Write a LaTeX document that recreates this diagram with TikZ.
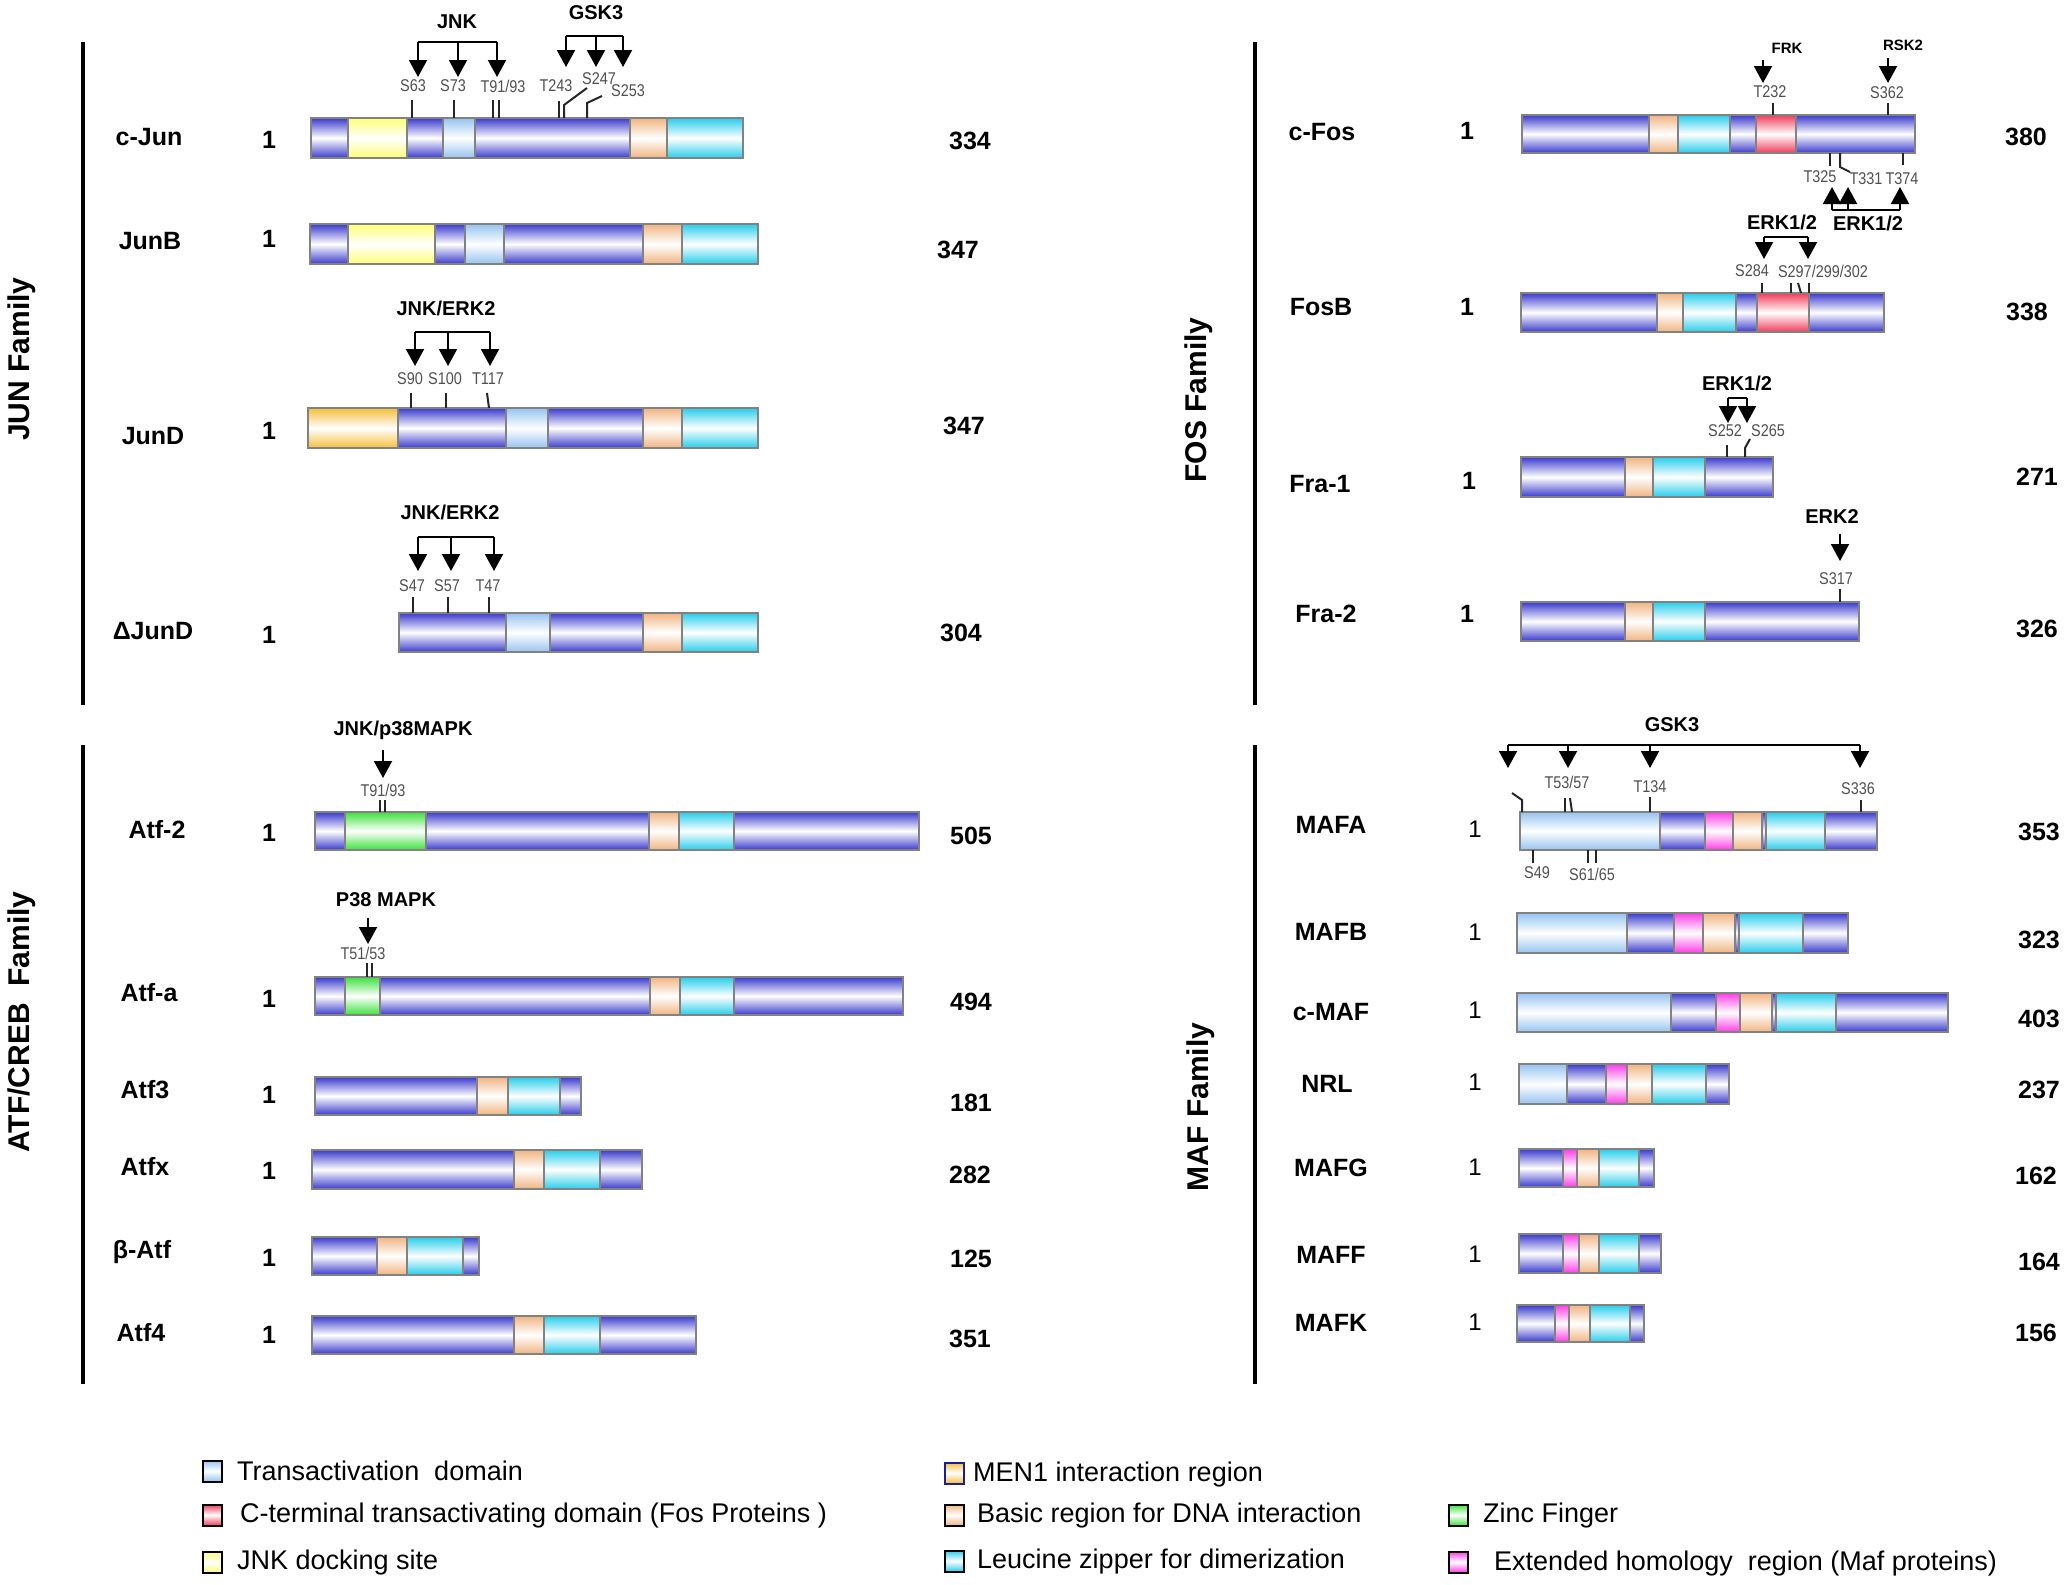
\documentclass[tikz,border=0pt]{standalone}
\usepackage{fontspec}
\setmainfont{Liberation Sans}
\newfontfamily\narrowfont[FakeStretch=0.85]{Liberation Sans}
\usetikzlibrary{arrows.meta}
\definecolor{cbody}{RGB}{58,58,205}
\definecolor{cta}{RGB}{150,195,240}
\definecolor{cjnk}{RGB}{255,255,120}
\definecolor{cmen}{RGB}{245,190,60}
\definecolor{cbasic}{RGB}{240,180,130}
\definecolor{clz}{RGB}{40,205,235}
\definecolor{cred}{RGB}{240,60,90}
\definecolor{czf}{RGB}{60,225,60}
\definecolor{cmag}{RGB}{255,60,230}
\definecolor{cgrayline}{RGB}{130,130,130}
\definecolor{csite}{RGB}{80,80,80}
\definecolor{cdkblue}{RGB}{30,30,140}
\newcommand\seg[5]{\path[draw=cgrayline, line width=2pt, top color=#5, bottom color=#5, middle color=white] (#1,#3) rectangle (#2,#4);}
\newcommand\protbar[3]{\foreach \xa/\xb/\cc in {#3} {\seg{\xa}{\xb}{#1}{#2}{\cc}}}
\newcommand\karr[4]{\coordinate (#1s) at (#2,#3); \coordinate (#1t) at (#2,#4); \draw[karrow] (#1s) -- (#1t);}
\newcommand\kbr[4]{\coordinate (#1l) at (#2,#4); \coordinate (#1r) at (#3,#4); \draw[kbracket] (#1l) -- (#1r);}
\begin{document}
\begin{tikzpicture}[x=1pt,y=-1pt,
  pname/.style={font=\bfseries\fontsize{25}{30}\selectfont, inner sep=0pt},
  one/.style={font=\bfseries\fontsize{25}{30}\selectfont, inner sep=0pt},
  onereg/.style={font=\fontsize{24}{29}\selectfont, inner sep=0pt},
  num/.style={font=\bfseries\fontsize{25}{30}\selectfont, inner sep=0pt},
  kin/.style={font=\bfseries\fontsize{20}{24}\selectfont, inner sep=0pt},
  kinsm/.style={font=\bfseries\fontsize{15}{18}\selectfont, inner sep=0pt},
  site/.style={font=\narrowfont\fontsize{17}{20}\selectfont, text=csite, inner sep=0pt},
  fam/.style={font=\bfseries\fontsize{30}{36}\selectfont, rotate=90, inner sep=0pt},
  leg/.style={font=\fontsize{27}{32}\selectfont, anchor=west, inner sep=0pt},
  legbox/.style={draw=black, line width=2pt, minimum width=19pt, minimum height=21pt, inner sep=0pt},
  famline/.style={line width=4pt},
  karrow/.style={line width=2pt, -{Triangle[width=18pt,length=17pt]}},
  kbracket/.style={line width=2pt},
  tick/.style={line width=2pt, draw=black!85}]
\useasboundingbox (0,0) rectangle (2067,1585);
% ================= JUN family
\draw[famline] (83,42) -- (83,705);
\node[fam] (famjun) at (22,359) {JUN Family};
% c-Jun
\node[pname] (cjun) at (149,137) {c-Jun};
\node[one] (cjun1) at (269,140) {1};
\protbar{118}{158}{311/348/cbody, 348/407/cjnk, 407/443/cbody, 443/475/cta, 475/630/cbody, 630/667/cbasic, 667/743/clz}
\node[num] (cjunN) at (970,141) {334};
\node[kin] (cjunk1) at (457,22) {JNK};
\kbr{cjb1}{418}{497}{42}
\karr{cja1}{418}{42}{77}\karr{cja2}{458}{42}{77}\karr{cja3}{497}{42}{77}
\node[kin] (cjunk2) at (596,13) {GSK3};
\kbr{cjb2}{566}{623}{36}
\karr{cja4}{566}{36}{67}\karr{cja5}{596}{36}{67}\karr{cja6}{623}{36}{67}
\node[site] (cjs1) at (413,86) {S63};
\node[site] (cjs2) at (453,86) {S73};
\node[site] (cjs3) at (503,86) {T91/93};
\node[site] (cjs4) at (556,86) {T243};
\node[site] (cjs5) at (599,79) {S247};
\node[site] (cjs6) at (628,91) {S253};
\draw[tick] (412,100) -- (412,118);
\draw[tick] (454,100) -- (454,118);
\draw[tick] (493,100) -- (493,118);
\draw[tick] (499,100) -- (499,118);
\draw[tick] (559,101) -- (559,118);
\draw[tick] (564,118) -- (564,105) -- (587,88);
\draw[tick] (587,118) -- (587,103) -- (602,96);
% JunB
\node[pname] (junb) at (150,241) {JunB};
\node[one] (junb1) at (269,239) {1};
\protbar{224}{264}{310/348/cbody, 348/435/cjnk, 435/465/cbody, 465/504/cta, 504/643/cbody, 643/682/cbasic, 682/758/clz}
\node[num] (junbN) at (958,250) {347};
% JunD
\node[pname] (jund) at (153,436) {JunD};
\node[one] (jund1) at (269,431) {1};
\protbar{408}{448}{308/398/cmen, 398/506/cbody, 506/548/cta, 548/643/cbody, 643/682/cbasic, 682/758/clz}
\node[num] (jundN) at (964,426) {347};
\node[kin] (jundk) at (446,308) {JNK/ERK2};
\kbr{jdb}{415}{490}{332}
\karr{jda1}{415}{332}{366}\karr{jda2}{448}{332}{366}\karr{jda3}{490}{332}{366}
\node[site] (jds1) at (410,379) {S90};
\node[site] (jds2) at (445,379) {S100};
\node[site] (jds3) at (488,379) {T117};
\draw[tick] (411,393) -- (411,408);
\draw[tick] (446,393) -- (446,408);
\draw[tick] (487,393) -- (489,408);
% Delta JunD
\node[pname] (djund) at (153,631) {ΔJunD};
\node[one] (djund1) at (269,635) {1};
\protbar{613}{652}{399/506/cbody, 506/550/cta, 550/643/cbody, 643/682/cbasic, 682/758/clz}
\node[num] (djundN) at (961,633) {304};
\node[kin] (djundk) at (450,512) {JNK/ERK2};
\kbr{djb}{418}{494}{537}
\karr{dja1}{418}{537}{571}\karr{dja2}{451}{537}{571}\karr{dja3}{494}{537}{571}
\node[site] (djs1) at (412,586) {S47};
\node[site] (djs2) at (447,586) {S57};
\node[site] (djs3) at (488,586) {T47};
\draw[tick] (413,597) -- (413,613);
\draw[tick] (448,597) -- (448,613);
\draw[tick] (489,597) -- (489,613);
% ================= ATF/CREB family
\draw[famline] (83,745) -- (83,1384);
\node[fam] (famatf) at (22,1022) {ATF/CREB~ Family};
% Atf-2
\node[pname] (atf2) at (157,830) {Atf-2};
\node[one] (atf21) at (269,833) {1};
\protbar{812}{850}{315/345/cbody, 345/426/czf, 426/649/cbody, 649/679/cbasic, 679/734/clz, 734/919/cbody}
\node[num] (atf2N) at (971,836) {505};
\node[kin] (atf2k) at (403,730) {JNK/p38MAPK};
\karr{a2a}{383}{750}{778}
\node[site] (a2s) at (383,790) {T91/93};
\draw[tick] (380,800) -- (380,812);
\draw[tick] (385,800) -- (385,812);
% Atf-a
\node[pname] (atfa) at (149,993) {Atf-a};
\node[one] (atfa1) at (269,999) {1};
\protbar{977}{1015}{315/345/cbody, 345/380/czf, 380/650/cbody, 650/680/cbasic, 680/734/clz, 734/903/cbody}
\node[num] (atfaN) at (971,1002) {494};
\node[kin] (atfak) at (386,900) {P38 MAPK};
\karr{aaa}{368}{918}{944}
\node[site] (aas) at (363,953) {T51/53};
\draw[tick] (367,963) -- (367,977);
\draw[tick] (372,963) -- (372,977);
% Atf3
\node[pname] (atf3) at (145,1090) {Atf3};
\node[one] (atf31) at (269,1095) {1};
\protbar{1077}{1115}{315/477/cbody, 477/508/cbasic, 508/560/clz, 560/581/cbody}
\node[num] (atf3N) at (971,1103) {181};
% Atfx
\node[pname] (atfx) at (145,1167) {Atfx};
\node[one] (atfx1) at (269,1171) {1};
\protbar{1150}{1189}{312/514/cbody, 514/544/cbasic, 544/600/clz, 600/642/cbody}
\node[num] (atfxN) at (970,1175) {282};
% beta-Atf
\node[pname] (batf) at (142,1252) {β-Atf};
\node[one] (batf1) at (269,1258) {1};
\protbar{1237}{1275}{312/377/cbody, 377/407/cbasic, 407/463/clz, 463/479/cbody}
\node[num] (batfN) at (971,1259) {125};
% Atf4
\node[pname] (atf4) at (141,1333) {Atf4};
\node[one] (atf41) at (269,1335) {1};
\protbar{1316}{1354}{312/514/cbody, 514/544/cbasic, 544/600/clz, 600/696/cbody}
\node[num] (atf4N) at (970,1339) {351};
% ================= FOS family
\draw[famline] (1255,42) -- (1255,705);
\node[fam] (famfos) at (1199,400) {FOS Family};
% c-Fos
\node[pname] (cfos) at (1322,132) {c-Fos};
\node[one] (cfos1) at (1467,131) {1};
\protbar{115}{153}{1522/1649/cbody, 1649/1678/cbasic, 1678/1730/clz, 1730/1756/cbody, 1756/1796/cred, 1796/1915/cbody}
\node[num] (cfosN) at (2026,137) {380};
\node[kinsm] (cfk1) at (1787,48) {FRK};
\karr{cfa1}{1763}{60}{83}
\node[site] (cfs1) at (1770,92) {T232};
\draw[tick] (1773,103) -- (1773,115);
\node[kinsm] (cfk2) at (1903,45) {RSK2};
\karr{cfa2}{1888}{58}{83}
\node[site] (cfs2) at (1887,93) {S362};
\draw[tick] (1888,103) -- (1888,115);
\draw[tick] (1830,153) -- (1830,166);
\draw[tick] (1840,153) -- (1840,167) -- (1850,172);
\draw[tick] (1903,153) -- (1903,165);
\node[site] (cfs3) at (1820,177) {T325};
\node[site] (cfs4) at (1866,179) {T331};
\node[site] (cfs5) at (1902,179) {T374};
\kbr{cfb}{1832}{1900}{210}
\karr{cfa3}{1832}{210}{187}\karr{cfa4}{1848}{210}{187}\karr{cfa5}{1900}{210}{187}
\node[kin] (cfk3) at (1868,223) {ERK1/2};
% FosB
\node[pname] (fosb) at (1321,307) {FosB};
\node[one] (fosb1) at (1467,307) {1};
\protbar{293}{332}{1521/1657/cbody, 1657/1683/cbasic, 1683/1736/clz, 1736/1757/cbody, 1757/1809/cred, 1809/1884/cbody}
\node[num] (fosbN) at (2027,312) {338};
\node[kin] (fbk) at (1782,222) {ERK1/2};
\kbr{fbb}{1764}{1808}{237}
\karr{fba1}{1764}{237}{259}\karr{fba2}{1808}{237}{259}
\node[site] (fbs1) at (1752,271) {S284};
\node[site] (fbs2) at (1823,271) {S297/299/302};
\draw[tick] (1762,283) -- (1762,293);
\draw[tick] (1791,283) -- (1791,293);
\draw[tick] (1798,283) -- (1801,293);
\draw[tick] (1809,283) -- (1809,293);
% Fra-1
\node[pname] (fra1) at (1320,484) {Fra-1};
\node[one] (fra11) at (1469,481) {1};
\protbar{457}{497}{1521/1625/cbody, 1625/1653/cbasic, 1653/1705/clz, 1705/1773/cbody}
\node[num] (fra1N) at (2037,477) {271};
\node[kin] (f1k) at (1737,383) {ERK1/2};
\kbr{f1b}{1728}{1747}{398}
\karr{f1a1}{1728}{398}{423}\karr{f1a2}{1747}{398}{423}
\node[site] (f1s1) at (1725,431) {S252};
\node[site] (f1s2) at (1768,431) {S265};
\draw[tick] (1727,445) -- (1727,457);
\draw[tick] (1745,457) -- (1745,448) -- (1750,439);
% Fra-2
\node[pname] (fra2) at (1326,614) {Fra-2};
\node[one] (fra21) at (1467,614) {1};
\protbar{602}{641}{1521/1625/cbody, 1625/1653/cbasic, 1653/1705/clz, 1705/1859/cbody}
\node[num] (fra2N) at (2037,629) {326};
\node[kin] (f2k) at (1832,517) {ERK2};
\karr{f2a}{1840}{534}{561}
\node[site] (f2s) at (1836,579) {S317};
\draw[tick] (1840,589) -- (1840,602);
% ================= MAF family
\draw[famline] (1255,745) -- (1255,1384);
\node[fam] (fammaf) at (1201,1107) {MAF Family};
% MAFA
\node[pname] (mafa) at (1331,825) {MAFA};
\node[onereg] (mafa1) at (1475,829) {1};
\protbar{812}{850}{1520/1660/cta, 1660/1705/cbody, 1705/1733/cmag, 1733/1762/cbasic, 1762/1766/cbody, 1766/1825/clz, 1825/1877/cbody}
\node[num] (mafaN) at (2039,832) {353};
\node[kin] (mak) at (1672,725) {GSK3};
\kbr{mab}{1508}{1860}{745}
\karr{maa1}{1508}{745}{768}\karr{maa2}{1568}{745}{768}\karr{maa3}{1650}{745}{768}\karr{maa4}{1860}{745}{768}
\node[site] (mas1) at (1567,782) {T53/57};
\node[site] (mas2) at (1650,787) {T134};
\node[site] (mas3) at (1858,789) {S336};
\draw[tick] (1512,793) -- (1522,800) -- (1522,812);
\draw[tick] (1565,798) -- (1565,812);
\draw[tick] (1570,798) -- (1572,812);
\draw[tick] (1650,797) -- (1650,812);
\draw[tick] (1861,800) -- (1861,812);
\draw[tick] (1533,850) -- (1533,863);
\draw[tick] (1588,850) -- (1588,863);
\draw[tick] (1596,850) -- (1596,863);
\node[site] (mas4) at (1537,873) {S49};
\node[site] (mas5) at (1592,874) {S61/65};
% MAFB
\node[pname] (mafb) at (1331,932) {MAFB};
\node[onereg] (mafb1) at (1475,932) {1};
\protbar{913}{953}{1517/1627/cta, 1627/1674/cbody, 1674/1703/cmag, 1703/1735/cbasic, 1735/1739/cbody, 1739/1803/clz, 1803/1848/cbody}
\node[num] (mafbN) at (2039,940) {323};
% c-MAF
\node[pname] (cmaf) at (1331,1012) {c-MAF};
\node[onereg] (cmaf1) at (1475,1010) {1};
\protbar{993}{1032}{1517/1671/cta, 1671/1716/cbody, 1716/1740/cmag, 1740/1772/cbasic, 1772/1776/cbody, 1776/1836/clz, 1836/1948/cbody}
\node[num] (cmafN) at (2039,1019) {403};
% NRL
\node[pname] (nrl) at (1327,1084) {NRL};
\node[onereg] (nrl1) at (1475,1082) {1};
\protbar{1064}{1104}{1519/1567/cta, 1567/1606/cbody, 1606/1627/cmag, 1627/1652/cbasic, 1652/1706/clz, 1706/1729/cbody}
\node[num] (nrlN) at (2039,1090) {237};
% MAFG
\node[pname] (mafg) at (1331,1168) {MAFG};
\node[onereg] (mafg1) at (1475,1167) {1};
\protbar{1149}{1187}{1519/1563/cbody, 1563/1577/cmag, 1577/1599/cbasic, 1599/1639/clz, 1639/1654/cbody}
\node[num] (mafgN) at (2036,1176) {162};
% MAFF
\node[pname] (maff) at (1331,1255) {MAFF};
\node[onereg] (maff1) at (1475,1254) {1};
\protbar{1234}{1273}{1519/1563/cbody, 1563/1579/cmag, 1579/1599/cbasic, 1599/1639/clz, 1639/1661/cbody}
\node[num] (maffN) at (2039,1262) {164};
% MAFK
\node[pname] (mafk) at (1331,1323) {MAFK};
\node[onereg] (mafk1) at (1475,1322) {1};
\protbar{1305}{1342}{1517/1555/cbody, 1555/1569/cmag, 1569/1590/cbasic, 1590/1630/clz, 1630/1644/cbody}
\node[num] (mafkN) at (2036,1333) {156};
% ================= Legend
\node[legbox, top color=cta, bottom color=cta, middle color=white] (lb1) at (212,1471) {};
\node[leg] (lt1) at (237,1471) {Transactivation~ domain};
\node[legbox, top color=cred, bottom color=cred, middle color=white] (lb2) at (212,1515) {};
\node[leg] (lt2) at (240,1515) {C-terminal transactivating domain (Fos Proteins )};
\node[legbox, top color=cjnk, bottom color=cjnk, middle color=white] (lb3) at (212,1562) {};
\node[leg] (lt3) at (237,1562) {JNK docking site};
\node[legbox, draw=cdkblue, top color=cmen, bottom color=cmen, middle color=white] (lb4) at (954,1473) {};
\node[leg] (lt4) at (973,1474) {MEN1 interaction region};
\node[legbox, top color=cbasic, bottom color=cbasic, middle color=white] (lb5) at (954,1515) {};
\node[leg] (lt5) at (977,1515) {Basic region for DNA interaction};
\node[legbox, top color=clz, bottom color=clz, middle color=white] (lb6) at (954,1561) {};
\node[leg] (lt6) at (977,1561) {Leucine zipper for dimerization};
\node[legbox, top color=czf, bottom color=czf, middle color=white] (lb7) at (1458,1515) {};
\node[leg] (lt7) at (1483,1515) {Zinc Finger};
\node[legbox, top color=cmag, bottom color=cmag, middle color=white] (lb8) at (1458,1562) {};
\node[leg] (lt8) at (1494,1563) {Extended homology~ region (Maf proteins)};
\end{tikzpicture}
\end{document}
